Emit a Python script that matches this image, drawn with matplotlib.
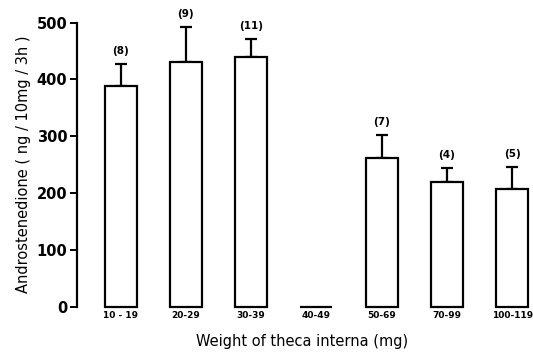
import numpy as np
import matplotlib.pyplot as plt

categories = ['10 - 19', '20-29', '30-39', '40-49', '50-69', '70-99', '100-119']
means = [388, 431, 440, 0, 261, 220, 207]
upper_err = [40, 62, 32, 0, 42, 24, 39]
n_labels = ['(8)', '(9)', '(11)', '', '(7)', '(4)', '(5)']

plt.rcParams['font.family'] = 'DejaVu Sans'

fig = plt.figure(figsize=(5.33, 3.58), dpi=100)
ax = fig.add_axes([0.1445, 0.1433, 0.846, 0.7933])

x = np.arange(len(categories))
bars = ax.bar(x, means, width=0.49, color='white', edgecolor='black', linewidth=1.6, zorder=2)
for b in bars:
    b.set_clip_on(False)

# upper error bars only
has_err = [i for i in x if upper_err[i] > 0]
ax.errorbar(x[has_err], np.array(means)[has_err],
            yerr=[np.zeros(len(has_err)), np.array(upper_err)[has_err]],
            fmt='none', ecolor='black', elinewidth=1.6, capsize=4, capthick=1.6, zorder=1)

for i, lab in enumerate(n_labels):
    if lab:
        ax.text(x[i], means[i] + upper_err[i] + 14, lab, ha='center', va='bottom',
                fontsize=7.5, fontweight='bold')

ax.set_xlim(-0.667, 6.24)
ax.set_ylim(0, 500)
ax.set_yticks([0, 100, 200, 300, 400, 500])
ax.set_xticks(x)
ax.set_xticklabels(categories, fontsize=6.5, fontweight='bold')
ax.tick_params(axis='x', length=0, pad=3)
ax.tick_params(axis='y', length=5, width=1.4, direction='out', labelsize=10.5, pad=2)
for lab in ax.get_yticklabels():
    lab.set_fontweight('bold')

for s in ['top', 'right', 'bottom']:
    ax.spines[s].set_visible(False)
ax.spines['left'].set_linewidth(1.6)

ax.set_ylabel('Androstenedione ( ng / 10mg / 3h )', fontsize=10.5, labelpad=4)
ax.set_xlabel('Weight of theca interna (mg)', fontsize=10.5, labelpad=10)

fig.savefig('out.png', dpi=100)
